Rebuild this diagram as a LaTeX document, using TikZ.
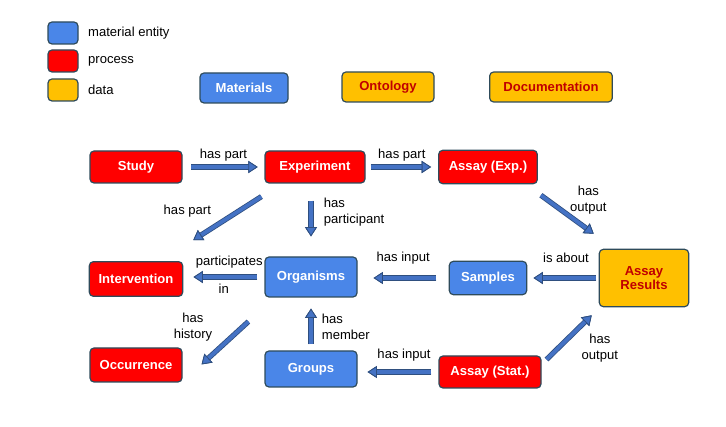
\documentclass[tikz,border=0pt]{standalone}
\usepackage{fontspec}
\setmainfont{Liberation Sans}
\usetikzlibrary{arrows.meta,calc,positioning}

\definecolor{matblue}{HTML}{4A86E8}
\definecolor{procred}{HTML}{FF0000}
\definecolor{datyellow}{HTML}{FFC000}
\definecolor{datred}{HTML}{C00000}
\definecolor{boxedge}{HTML}{2E4B5B}
\definecolor{arrowfill}{HTML}{4472C4}
\definecolor{arrowedge}{HTML}{2F4F7F}

\begin{document}
\begin{tikzpicture}[x=0.75pt,y=-0.75pt,
                    font=\fontsize{9.8}{12}\selectfont,
    box/.style={rectangle,rounded corners=3pt,draw=boxedge,line width=0.9pt,
                inner sep=0pt,align=center,
                font=\fontsize{9.8}{10.5}\selectfont\bfseries},
    matnode/.style={box,fill=matblue,text=white},
    procnode/.style={box,fill=procred,text=white},
    datanode/.style={box,fill=datyellow,text=datred},
    legbox/.style={rectangle,rounded corners=3pt,draw=boxedge,line width=0.9pt,
                   minimum width=22.5pt,minimum height=16.5pt},
    legtext/.style={inner sep=1pt},
    lbl/.style={inner sep=1pt,align=center},
    link/.style={line width=2.8pt,draw=arrowfill,
      -{Triangle[length=7pt,width=9pt,fill=arrowfill,color=arrowedge,line width=0.6pt]},
      preaction={draw=arrowedge,line width=4pt,
                 -{Triangle[length=7pt,width=9pt,line width=0.6pt]}}}]

  \useasboundingbox (0,0) rectangle (726,427);

  % legend
  \node[legbox,fill=matblue] (legmat) at (63,33) {};
  \node[legbox,fill=procred] (legproc) at (63,61) {};
  \node[legbox,fill=datyellow] (legdata) at (63,90) {};
  \node[legtext,right=6pt of legmat] (legmattext) {material entity};
  \node[legtext,right=6pt of legproc] (legproctext) {process};
  \node[legtext,right=6pt of legdata] (legdatatext) {data};

  % top row
  \node[matnode,minimum width=66pt,minimum height=22.5pt] (materials) at (244,88) {Materials};
  \node[datanode,minimum width=69pt,minimum height=22.5pt] (ontology) at (388,87) {Ontology};
  \node[datanode,minimum width=92pt,minimum height=22.5pt] (documentation) at (551,87) {Documentation};

  % graph
  \node[procnode,minimum width=69pt,minimum height=24pt] (study) at (136,167) {Study};
  \node[procnode,minimum width=75pt,minimum height=24pt] (experiment) at (315,167) {Experiment};
  \node[procnode,minimum width=74pt,minimum height=25pt] (assayexp) at (488,167) {Assay (Exp.)};
  \node[procnode,minimum width=70pt,minimum height=26pt] (intervention) at (136,279) {Intervention};
  \node[matnode,minimum width=69pt,minimum height=30pt] (organisms) at (311,277) {Organisms};
  \node[matnode,minimum width=58pt,minimum height=25pt] (samples) at (488,278) {Samples};
  \node[datanode,minimum width=67pt,minimum height=43pt] (results) at (644,278) {Assay\\Results};
  \node[procnode,minimum width=69pt,minimum height=25.5pt] (occurrence) at (136,365) {Occurrence};
  \node[matnode,minimum width=69pt,minimum height=27pt] (groups) at (311,369) {Groups};
  \node[procnode,minimum width=76.5pt,minimum height=24pt] (assaystat) at (490,372) {Assay (Stat.)};

  % connectors
  \draw[link,shorten <=6.5pt,shorten >=5pt] (study.east) -- (experiment.west)
    node[lbl,midway,yshift=9pt] (l1) {has part};
  \draw[link,shorten <=3.75pt,shorten >=5.25pt] (experiment.east) -- (assayexp.west)
    node[lbl,midway,yshift=9pt] (l2) {has part};
  \draw[link] ($(experiment.south west)+(-3,13)$) -- ($(intervention.north east)+(10,-21)$)
    node[lbl,midway,xshift=-30pt,yshift=5.6pt] (l3) {has part};
  \draw[link,shorten <=12.75pt,shorten >=15pt] (experiment.south -| organisms.north) -- (organisms.north)
    node[lbl,midway,anchor=west,align=left,xshift=7.3pt,yshift=6pt] (l4) {has\\participant};
  \draw[link] ($(assayexp.south east)+(3,11)$) -- ($(results.north west)+(-5,-15)$)
    node[lbl,midway,xshift=15.75pt,yshift=11pt] (l5) {has\\output};
  \draw[link,shorten <=9.2pt,shorten >=12pt] (samples.west) -- (samples.west -| organisms.east)
    node[lbl,midway,yshift=15pt] (l6) {has input};
  \draw[link,shorten <=1.7pt,shorten >=4.7pt] (results.west) -- (samples.east)
    node[lbl,midway,xshift=2.25pt,yshift=15pt] (l7) {is about};
  \draw[link,shorten <=5.25pt,shorten >=7.7pt] (organisms.west) -- (organisms.west -| intervention.east)
    node[lbl,midway,xshift=4pt,yshift=11pt] (l8) {participates}
    node[lbl,midway,yshift=-9pt] (l9) {in};
  \draw[link] ($(organisms.south west)+(-16,24)$) -- ($(occurrence.north east)+(19,17)$)
    node[lbl,midway,xshift=-24pt,yshift=12pt] (l10) {has\\history};
  \draw[link,shorten <=4.5pt,shorten >=8.25pt] (groups.north) -- (organisms.south)
    node[lbl,midway,anchor=west,align=left,xshift=5.8pt,yshift=-2.2pt] (l11) {has\\member};
  \draw[link,shorten <=5.25pt,shorten >=7.5pt] (assaystat.west) -- (assaystat.west -| groups.east)
    node[lbl,midway,xshift=4.5pt,yshift=12.75pt] (l12) {has input};
  \draw[link] ($(assaystat.north east)+(5,4)$) -- ($(results.south west)+(-7,8)$)
    node[lbl,midway,xshift=23pt,yshift=-8pt] (l13) {has\\output};
\end{tikzpicture}
\end{document}
